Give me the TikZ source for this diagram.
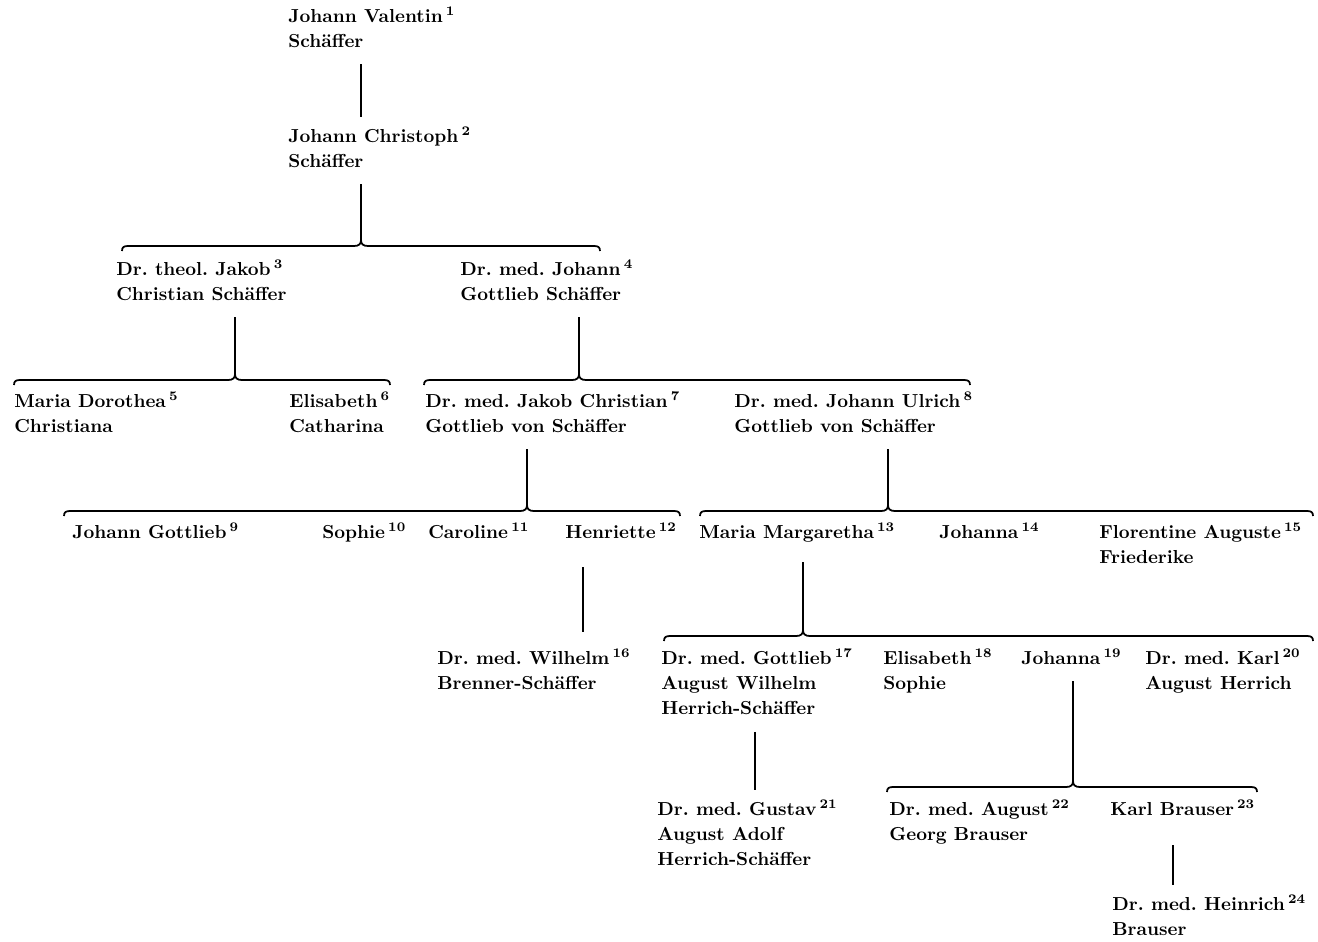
\documentclass[tikz,border=0pt]{standalone}
\usepackage{fontspec}
\frenchspacing

\tikzset{
  person/.style={anchor=base west, inner sep=0pt,
    font=\fontsize{10.7}{14.5}\selectfont\bfseries},
  stem/.style={line width=1.1pt, shorten <=0.18cm, shorten >=0.13cm},
  brace/.style={line width=1pt},
}

% name block, baseline on its first line
\newcommand\who[1]{\begin{tabular}[t]{@{}l@{}}#1\end{tabular}}
% superscript number after a name
\newcommand\nr[1]{\,\textsuperscript{#1}}

% curly bracket over a row of children: tip name, left x, tip x, right x, y
\newcommand\famline[5]{%
  \draw[brace] (#2,#5+5) .. controls (#2,#5+1) and (#2+2,#5) .. (#2+6,#5)
    -- (#3-7,#5) .. controls (#3-2,#5) and (#3,#5-2) .. (#3,#5-6)
    .. controls (#3,#5-2) and (#3+2,#5) .. (#3+7,#5)
    -- (#4-6,#5) .. controls (#4-2,#5) and (#4,#5+1) .. (#4,#5+5);
  \coordinate (#1) at (#3,#5-6);
}

\begin{document}
\begin{tikzpicture}[x=0.02cm,y=-0.02cm]
\useasboundingbox (0,0) rectangle (1318,941);

% generations
\node[person] (v1) at (288,22) {\who{Johann Valentin\nr{1}\\Schäffer}};
\node[person] (v2) at (288,142) {\who{Johann Christoph\nr{2}\\Schäffer}};

\node[person] (jakob) at (116,275) {\who{Dr. theol. Jakob\nr{3}\\Christian Schäffer}};
\node[person] (johann) at (460,275) {\who{Dr. med. Johann\nr{4}\\Gottlieb Schäffer}};

\node[person] (mdor) at (14,407) {\who{Maria Dorothea\nr{5}\\Christiana}};
\node[person] (elis) at (289,407) {\who{Elisabeth\nr{6}\\Catharina}};
\node[person] (jchr) at (425,407) {\who{Dr. med. Jakob Christian\nr{7}\\Gottlieb von Schäffer}};
\node[person] (julr) at (734,407) {\who{Dr. med. Johann Ulrich\nr{8}\\Gottlieb von Schäffer}};

\node[person] (jgott) at (72,538) {\who{Johann Gottlieb\nr{9}}};
\node[person] (sophie) at (322,538) {\who{Sophie\nr{10}}};
\node[person] (caro) at (428,538) {\who{Caroline\nr{11}}};
\node[person] (henr) at (565,538) {\who{Henriette\nr{12}}};
\node[person] (mmarg) at (699,538) {\who{Maria Margaretha\nr{13}}};
\node[person] (johanna) at (939,538) {\who{Johanna\nr{14}}};
\node[person] (flor) at (1099,538) {\who{Florentine Auguste\nr{15}\\Friederike}};

\node[person] (wilh) at (437,664) {\who{Dr. med. Wilhelm\nr{16}\\Brenner-Schäffer}};
\node[person] (gottl) at (661,664) {\who{Dr. med. Gottlieb\nr{17}\\August Wilhelm\\Herrich-Schäffer}};
\node[person] (elsoph) at (883,664) {\who{Elisabeth\nr{18}\\Sophie}};
\node[person] (johanna2) at (1021,664) {\who{Johanna\nr{19}}};
\node[person] (karl) at (1145,664) {\who{Dr. med. Karl\nr{20}\\August Herrich}};

\node[person] (gustav) at (657,815) {\who{Dr. med. Gustav\nr{21}\\August Adolf\\Herrich-Schäffer}};
\node[person] (august) at (889,815) {\who{Dr. med. August\nr{22}\\Georg Brauser}};
\node[person] (kbrauser) at (1110,815) {\who{Karl Brauser\nr{23}}};

\node[person] (heinr) at (1112,910) {\who{Dr. med. Heinrich\nr{24}\\Brauser}};

% brackets
\famline{b1}{122}{361}{600}{246}
\famline{b2}{14}{235}{390}{380}
\famline{b3}{424}{579}{970}{380}
\famline{b4}{64}{527}{680}{511}
\famline{b5}{700}{888}{1313}{511}
\famline{b6}{664}{803}{1313}{636}
\famline{b7}{887}{1073}{1257}{787}

% descent lines
\draw[stem] (v1.south -| 361,0) -- (v2.north -| 361,0);
\draw[stem, shorten >=0pt] (v2.south -| b1) -- (b1);
\draw[stem, shorten >=0pt] (jakob.south -| b2) -- (b2);
\draw[stem, shorten >=0pt] (johann.south -| b3) -- (b3);
\draw[stem, shorten >=0pt] (jchr.south -| b4) -- (b4);
\draw[stem, shorten >=0pt] (julr.south -| b5) -- (b5);
\draw[stem, shorten <=0.42cm, shorten >=0.28cm] (henr.south -| 583,0) -- (wilh.north -| 583,0);
\draw[stem, shorten <=0.32cm, shorten >=0pt] (mmarg.south -| b6) -- (b6);
\draw[stem] (gottl.south -| 755,0) -- (gustav.north -| 755,0);
\draw[stem, shorten >=0pt] (johanna2.south -| b7) -- (b7);
\draw[stem, shorten <=0.44cm] (kbrauser.south -| 1173,0) -- (heinr.north -| 1173,0);
\end{tikzpicture}
\end{document}
